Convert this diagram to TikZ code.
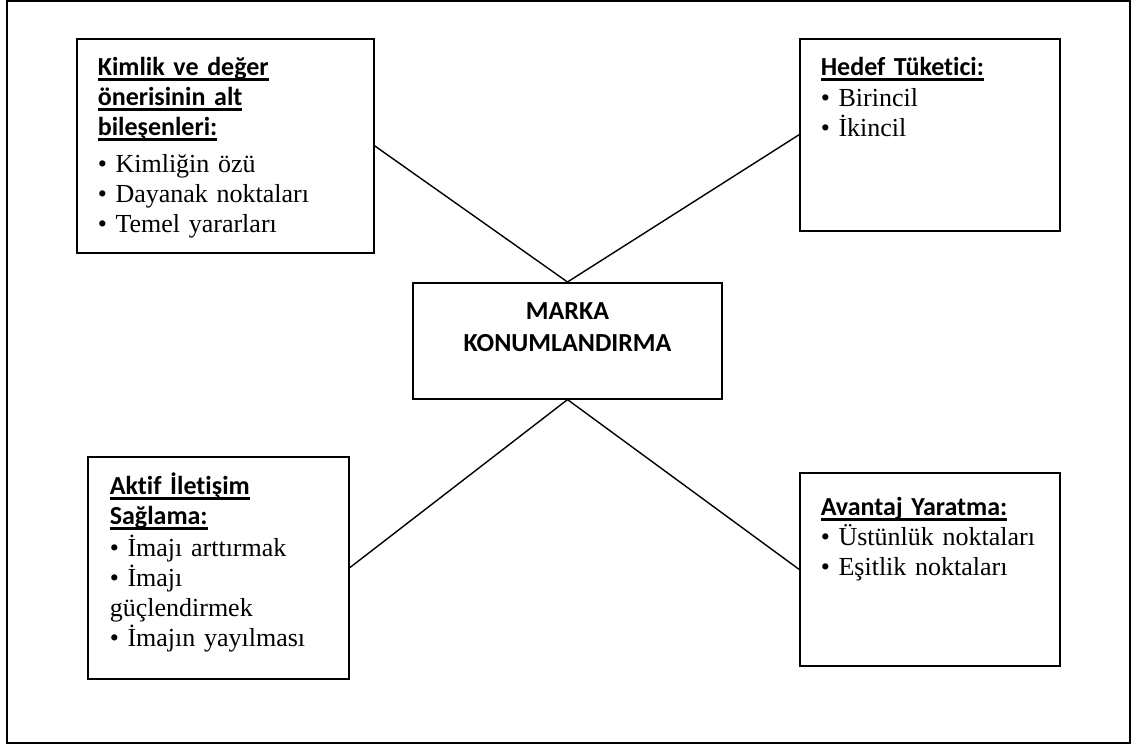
\documentclass[tikz,border=0pt]{standalone}
\usepackage{fontspec}
\setmainfont{Liberation Serif}
\newfontfamily\baslikfont{Carlito}[Ligatures=NoCommon]
\usepackage{tikz}
\newsavebox{\basliksatir}
\newcommand{\baslik}[1]{%
    \leavevmode{\baslikfont\bfseries\sbox{\basliksatir}{#1}%
     \rlap{\rule[-5pt]{\wd\basliksatir}{2.4pt}}\usebox{\basliksatir}}}
\tikzset{
    kutu/.style={
        draw,
        rectangle,
        line width=1.6pt,
        anchor=north west,
        inner xsep=21pt,
        inner ysep=0pt,
        align=left,
        font=\fontsize{26}{30}\selectfont
    },
    baglanti/.style={
        line width=1.4pt
    }
}
\begin{document}
\begin{tikzpicture}[
    x=1pt,
    y=-1pt
]
    \useasboundingbox (0,0) rectangle (1136,746);

    % Dış çerçeve
    \draw[line width=1.3pt] (7,1) rectangle (1130,743);

    % Kutular
    \node[kutu, text width=255pt, text height=37pt, text depth=177pt]
        (kimlik) at (76,38)
        {\baslik{Kimlik ve değer}\\ \baslik{önerisinin alt}\\ \baslik{bileşenleri:}\\[6.7pt]
         • Kimliğin özü\\ • Dayanak noktaları\\ • Temel yararları};
    \node[kutu, text width=218pt, text height=37pt, text depth=155pt]
        (hedef) at (799,38)
        {\baslik{Hedef Tüketici:}\\[1pt] • Birincil\\ • İkincil};
    \node[kutu, inner xsep=22pt, text width=217pt, text height=38pt, text depth=184pt]
        (aktif) at (87,456)
        {\baslik{Aktif İletişim}\\ \baslik{Sağlama:}\\[2pt]
         • İmajı arttırmak\\ • İmajı\\ güçlendirmek\\ • İmajın yayılması};
    \node[kutu, text width=218pt, text height=43pt, text depth=150pt]
        (avantaj) at (799,472)
        {\baslik{Avantaj Yaratma:}\\ • Üstünlük noktaları\\ • Eşitlik noktaları};

    % Merkez
    \node[kutu, anchor=north, align=center, inner xsep=0pt,
          text width=309pt, text height=36.5pt, text depth=79.5pt]
        (marka) at (567.5,282)
        {\baslikfont\bfseries MARKA\\[2.5pt] KONUMLANDIRMA};

    % Bağlantılar
    \draw[baglanti] (marka.north) -- (kimlik.east);
    \draw[baglanti] (marka.north) -- (hedef.west);
    \draw[baglanti] (marka.south) -- (aktif.east);
    \draw[baglanti] (marka.south) -- (avantaj.west);

\end{tikzpicture}
\end{document}
